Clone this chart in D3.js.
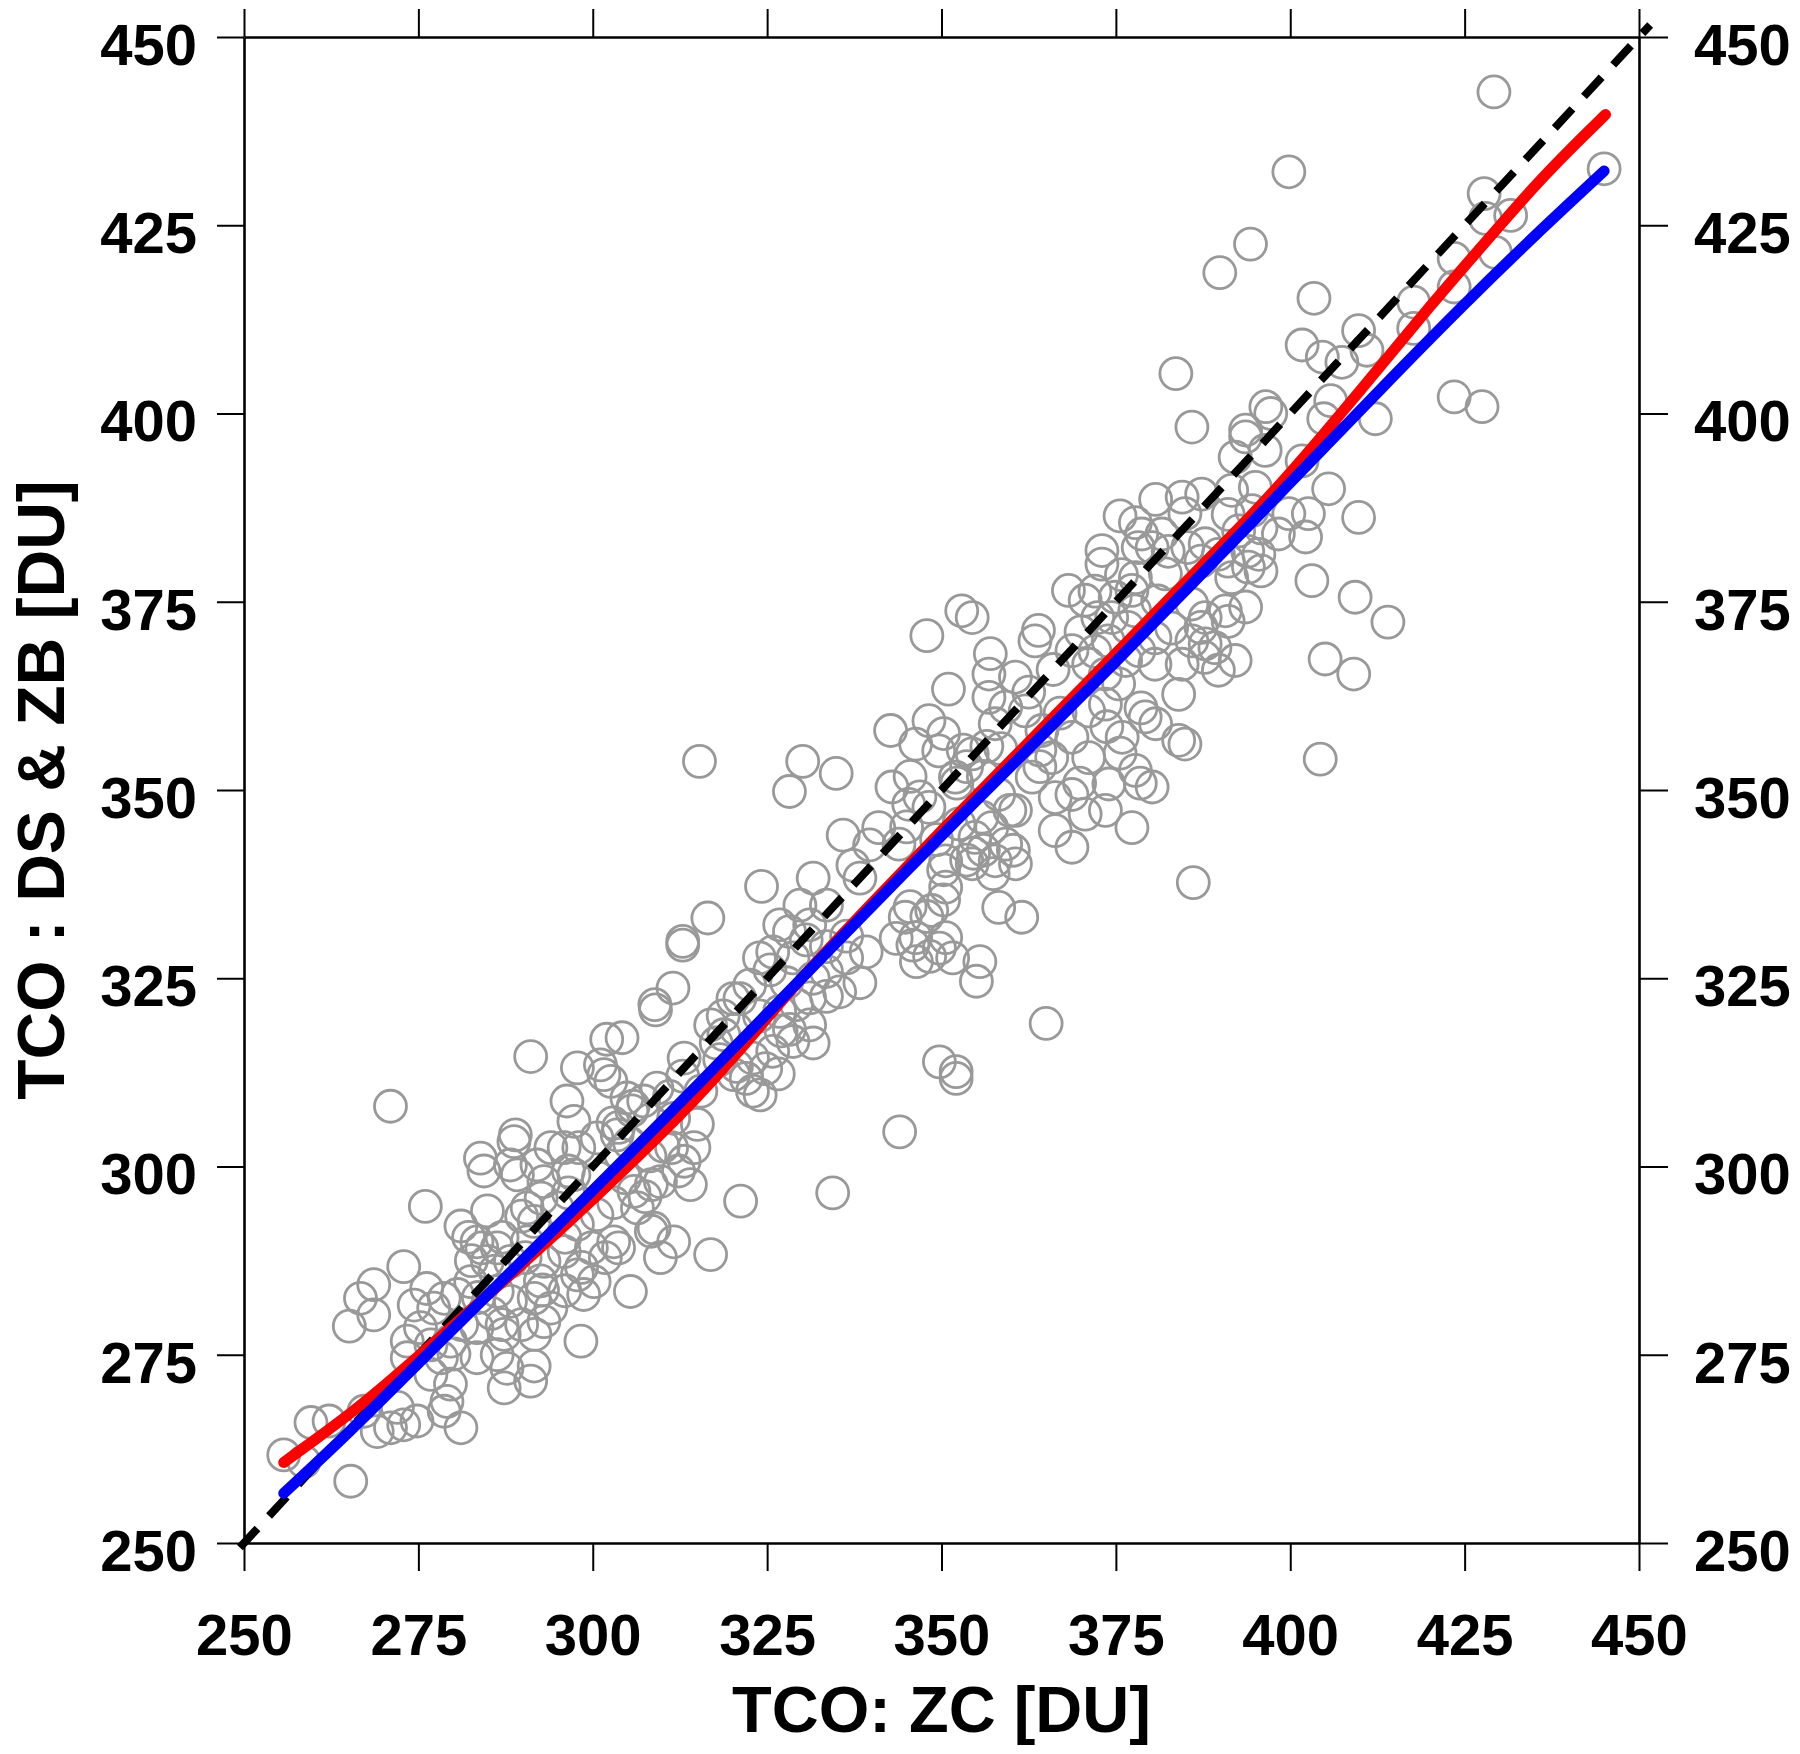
<!DOCTYPE html>
<html>
<head>
<meta charset="utf-8">
<script src="https://cdn.jsdelivr.net/npm/d3@7/dist/d3.min.js"></script>
<style>
  body { margin: 0; background: #fff; }
  svg { display: block; }
  .tick text { font-family: "Liberation Sans", Arial, sans-serif; font-weight: bold; }
</style>
</head>
<body>
<div id="chart"></div>
<script>
// tick values shared by all four sides
var tickValues = [250, 275, 300, 325, 350, 375, 400, 425, 450];

var lowerBandPoints = [
  [271.0,308.0],[291.1,314.6],[304.2,317.1],[309.0,320.8],[297.8,313.1],[301.1,313.5],[301.6,312.2],[302.6,311.3],
  [296.3,308.7],[297.3,306.0],[304.9,309.1],[307.3,308.7],[309.2,310.4],[313.1,314.4],[316.9,318.8],[318.8,317.5],
  [320.2,312.2],[315.5,310.0],[315.0,305.6],[311.6,306.4],[303.5,304.2],[300.6,303.8],[304.0,301.6],[314.5,302.5],
  [313.1,300.7],[314.0,297.6],[309.7,298.0],[305.9,296.7],[306.4,294.5],[321.2,295.4],[308.8,291.8],[311.6,290.0],
  [309.7,287.9],[316.9,288.3],[305.4,283.4],[303.0,290.0],[300.6,293.6],[297.8,292.3],[297.3,298.9],[293.0,298.0],
  [294.0,302.5],[295.9,302.5],[292.0,300.2],[289.2,298.9],[288.7,303.3],[288.9,304.2],[283.9,301.1],[284.4,299.4],
  [288.2,300.2],[276.0,294.7],[281.1,292.1],[284.9,294.1],[290.6,294.5],[291.6,292.7],[294.9,294.5],[283.4,290.0],
  [286.3,289.2],[284.9,287.4],[288.2,287.4],[290.6,290.0],[293.0,287.4],[295.9,288.7],[297.8,285.6],[300.2,284.7],
  [298.7,283.0],[292.5,284.8],[291.6,282.5],[294.0,281.2],[288.2,282.1],[286.3,283.4],[282.5,284.7],[280.6,283.0],
  [278.7,282.5],[277.2,281.2],[272.9,286.7],[268.6,284.3],[266.7,282.5],[268.6,280.3],[265.1,278.8],[274.4,281.6],
  [275.3,278.6],[273.4,276.8],[273.4,274.6],[276.8,276.3],[279.6,276.8],[283.4,278.6],[287.3,277.7],[286.3,275.0],
  [283.4,274.6],[280.1,275.1],[287.7,273.2],[291.6,273.5],[291.1,271.5],[287.3,270.6],[279.6,271.1],[279.1,268.8],
  [281.1,265.3],[276.8,272.4],[293.0,279.4],[298.3,276.8],[272.0,268.0],[271.0,265.3],[269.1,264.8],[272.9,265.7],
  [274.8,266.2],[267.2,267.5],[259.6,266.0],[262.2,266.2],[255.7,261.7],[258.6,260.8],[265.3,258.2],[278.7,267.5],
  [307.5,296.0],[292.8,283.6],[296.5,296.5],[285.5,280.5],[289.8,279.0],
  [298.0,302.5],[303.7,305.2],[305.6,307.4],[311.3,302.5],[296.5,299.4],[300.8,298.5],[304.6,298.5],[303.0,295.2],
  [308.4,297.6],[312.3,299.4],[289.8,293.4],[292.6,295.8],[284.1,289.2],[287.0,290.6],[282.2,290.6],[290.3,287.9],
  [296.0,290.6],[299.8,289.2],[301.8,287.9],[308.4,291.4],[303.7,289.2],[298.4,286.6],[296.0,283.5],[286.0,286.1],
  [282.6,287.5],[283.6,282.6],[287.0,279.0],[281.2,279.0],[291.7,277.7],[278.3,274.6],[276.2,283.8]
];

var middleBandPoints = [
  [315.3,353.8],[330.1,353.8],[334.9,352.2],[328.2,349.8],[335.9,344.0],[365.0,319.0],[349.7,313.9],[352.1,312.6],
  [352.1,311.7],[344.0,304.6],[334.4,296.5],[324.2,337.2],[316.5,333.0],[312.9,329.4],[312.9,329.9],[311.5,323.7],
  [308.9,321.5],[331.6,338.3],[329.7,334.7],[328.2,331.2],[323.9,327.7],[325.8,328.5],[328.7,327.7],[331.1,332.1],
  [333.5,334.7],[337.3,340.0],[338.3,338.3],[339.7,342.7],[339.2,328.5],[336.4,327.7],[333.5,325.9],[331.6,325.0],
  [335.4,323.2],[331.1,322.4],[329.2,321.5],[326.8,320.6],[331.1,318.8],[328.7,316.6],[325.8,315.3],[322.9,314.4],
  [322.0,311.7],[322.9,310.0],[320.1,322.3],[322.5,324.1],[326.8,332.1],[321.1,322.3],[343.5,330.3],[345.9,329.4],
  [346.4,327.2],[349.7,329.0],[351.6,327.7],[355.5,327.2],[355.0,324.6],[324.8,313.0],[326.6,312.3],[324.0,309.5],
  [327.0,318.0],
  [330.6,330.1],[333.5,329.2],[336.4,330.6],[338.3,324.4],[333.5,322.6],[327.8,324.4],[325.4,326.1],[318.7,320.0],
  [317.7,316.4],[320.6,318.2],[323.9,320.0],[328.2,318.2],[331.6,316.4],[320.6,313.3],[312.9,312.0],[311.0,309.3],
  [305.8,308.0],[308.2,306.2],[302.9,305.8],[305.3,303.1],[310.1,302.7],[308.2,301.4],[302.0,316.9],[318.2,314.2]
];

var upperBandPoints = [
  [347.9,370.5],[352.9,373.8],[354.4,372.9],[351.0,363.4],[342.7,357.9],[348.2,359.2],[346.3,356.1],[350.3,357.5],
  [349.6,355.2],[342.9,350.4],[345.3,348.1],[348.2,347.7],[341.0,345.0],[343.9,342.8],[352.0,351.7],[354.4,354.8],
  [357.0,368.1],[356.8,365.4],[356.8,362.3],[360.6,365.0],[359.2,361.0],[357.7,358.8],[362.0,360.5],[355.8,346.4],
  [357.2,345.0],[354.8,343.7],[359.2,342.8],[354.4,340.2],[357.7,340.6],[360.6,340.2],[360.6,347.3],[358.2,349.4],
  [350.6,340.6],[350.6,337.1],[348.6,334.0],[344.8,333.1],[346.3,330.4],[358.2,334.4],[361.5,333.1],[350.6,330.4],
  [363.0,351.7],[366.3,349.0],[368.7,349.4],[370.6,346.8],[366.3,344.6],[368.7,342.4],[377.3,345.0],[380.2,350.4],
  [374.0,350.8],[377.8,352.6],[384.0,356.6],[384.9,356.1],[380.7,358.8],[379.2,359.7],[384.0,362.7],[375.9,357.0],
  [371.1,354.3],[368.7,357.0],[365.8,354.3],[364.4,357.9],[363.4,369.8],[363.9,371.2],[368.2,376.5],[370.6,375.2],
  [368.7,368.5],[371.1,366.7],[373.5,365.4],[375.4,364.1],[373.5,361.4],[371.1,360.5],[376.4,367.2],[378.3,368.5],
  [374.4,372.9],[374.9,375.6],[373.0,381.8],[373.0,380.0],[375.6,386.4],[377.8,385.5],[380.7,388.6],[378.7,384.0],
  [381.6,384.0],[380.2,382.2],[377.8,378.2],[377.3,376.5],[382.1,378.7],[384.5,388.9],[387.3,389.3],[384.9,386.7],
  [387.8,382.7],[389.7,381.3],[391.6,389.8],[392.1,394.2],[396.4,395.1],[395.0,390.2],[394.5,387.1],[392.6,384.4],
  [395.5,381.3],[394.0,379.6],[391.6,378.2],[385.9,374.7],[387.8,372.9],[390.7,373.8],[393.6,374.3],[385.9,369.8],
  [387.8,369.4],[392.1,367.2],[389.7,365.9],[384.5,366.7],[398.3,384.0],[402.2,383.6],[399.8,386.7],[402.6,386.7],
  [401.7,393.7],[405.5,390.0],[409.8,386.2],[403.1,377.8],[409.3,375.6],[405.0,367.4],[409.1,365.4],[404.3,354.1],
  [386.1,337.7],[373.5,347.3],[352.5,345.5],[356.0,342.0],[362.5,363.0],[366.0,366.0],[370.0,371.0],[358.5,355.5],
  [383.0,371.5],[414.0,372.3],
  [353.1,355.3],[356.5,355.8],[364.1,355.3],[367.0,360.2],[373.7,358.4],[375.6,354.9],[378.5,350.9],[369.8,350.9],
  [364.1,353.1],[345.5,351.8],[346.9,349.1],[345.0,345.1],[349.3,343.4],[352.2,350.9],[353.6,353.1],[356.0,351.8],
  [359.8,347.3],[360.3,342.0],[354.6,341.6],[357.4,338.9],[353.6,340.7],[350.3,339.4],[350.3,335.4],[345.5,334.5],
  [347.9,333.2],[348.3,327.9],
  [391.1,386.6],[395.8,384.8],[393.9,381.7],[385.3,382.2],[378.2,382.2],[382.5,381.7],[375.8,378.6],[387.2,380.4],
  [391.1,380.4],[395.8,379.1],[372.0,376.4],[372.4,372.9],[377.7,373.8],[381.0,375.1],[391.1,372.4],[387.2,371.6],
  [389.2,368.9],[387.7,367.6],[380.6,370.2],[376.7,371.6],[373.9,369.8],[372.0,368.4],[380.6,366.7],[378.6,360.9]
];

var topBandPoints = [
  [429.2,442.7],[399.8,432.1],[394.3,422.5],[389.9,418.7],[403.4,415.3],[383.6,405.3],[385.9,398.2],[401.7,409.1],
  [404.6,407.5],[407.4,406.8],[409.8,411.0],[411.0,408.4],[427.8,429.2],[428.0,425.9],[431.6,426.3],[429.4,421.4],
  [423.5,420.6],[423.5,416.8],[417.7,414.8],[417.7,411.3],[445.0,432.5],[423.5,402.2],[427.5,400.9],[412.2,399.3],
  [404.8,399.3],[405.8,401.7],[396.5,400.9],[397.2,400.0],[393.6,397.8],[393.6,396.9]
];

// red fitted curve
var redFitX = [255.7,260,265,270,275,280,285,290,295,300,305,310,315,320,325,330,340,350,360,370,380,390,395,400,405,410,415,420,425,430,435,440,445.2];
var redFitY = [260.7,263.6,267.0,270.8,274.8,278.9,283.0,287.1,291.3,295.6,300.0,304.5,309.2,314.3,319.7,325.2,335.0,344.6,354.0,363.4,372.9,382.3,387.0,392.1,397.5,403.0,408.6,414.2,419.6,424.9,430.2,435.0,439.7];

// blue fitted curve
var blueFitX = [255.7,265,275,285,295,305,315,325,335,345,355,365,375,385,395,405,415,425,435,445];
var blueFitY = [256.6,264.6,273.9,283.0,292.2,301.4,310.8,320.3,329.8,339.3,348.6,357.8,367.0,376.5,386.0,395.6,405.2,414.6,423.6,432.2];

// 1:1 reference line ends
var oneToOne = [249.4, 451.6];

var width = 1800, height = 1754;
var margin = {top: 37, right: 161, bottom: 211, left: 244};
var fontFamily = '"Liberation Sans", Arial, sans-serif';

var svg = d3.select("#chart").append("svg")
  .attr("width", width)
  .attr("height", height);

var x = d3.scaleLinear().domain([250, 450]).range([margin.left, width - margin.right]);
var y = d3.scaleLinear().domain([250, 450]).range([height - margin.bottom, margin.top]);

var allPoints = lowerBandPoints.concat(middleBandPoints, upperBandPoints, topBandPoints);

// scatter
svg.append("g")
  .selectAll("circle")
  .data(allPoints)
  .enter()
  .append("circle")
  .attr("cx", function(d) { return x(d[0]); })
  .attr("cy", function(d) { return y(d[1]); })
  .attr("r", 16)
  .attr("fill", "none")
  .attr("stroke", "#999999")
  .attr("stroke-width", 2.8);

// dashed 1:1 line
var line = d3.line()
  .x(function(d) { return x(d[0]); })
  .y(function(d) { return y(d[1]); });

svg.append("path")
  .datum(oneToOne.map(function(v) { return [v, v]; }))
  .attr("d", line)
  .attr("fill", "none")
  .attr("stroke", "#000")
  .attr("stroke-width", 8)
  .attr("stroke-dasharray", "26,17");

var smooth = d3.line()
  .x(function(d) { return x(d[0]); })
  .y(function(d) { return y(d[1]); })
  .curve(d3.curveBasis);

svg.append("path")
  .datum(d3.zip(redFitX, redFitY))
  .attr("d", smooth)
  .attr("fill", "none")
  .attr("stroke", "#ff0000")
  .attr("stroke-width", 11)
  .attr("stroke-linecap", "round");

svg.append("path")
  .datum(d3.zip(blueFitX, blueFitY))
  .attr("d", smooth)
  .attr("fill", "none")
  .attr("stroke", "#0000ff")
  .attr("stroke-width", 11)
  .attr("stroke-linecap", "round");

// axes on all four sides
var fmt = d3.format("d");

var gBottom = svg.append("g")
  .attr("transform", "translate(0," + (height - margin.bottom) + ")")
  .call(d3.axisBottom(x).tickValues(tickValues).tickFormat(fmt).tickSize(28).tickSizeOuter(0).tickPadding(43));

var gTop = svg.append("g")
  .attr("transform", "translate(0," + margin.top + ")")
  .call(d3.axisTop(x).tickValues(tickValues).tickFormat("").tickSize(28).tickSizeOuter(0));

var gLeft = svg.append("g")
  .attr("transform", "translate(" + margin.left + ",0)")
  .call(d3.axisLeft(y).tickValues(tickValues).tickFormat(fmt).tickSize(27).tickSizeOuter(0).tickPadding(20));

var gRight = svg.append("g")
  .attr("transform", "translate(" + (width - margin.right) + ",0)")
  .call(d3.axisRight(y).tickValues(tickValues).tickFormat(fmt).tickSize(29).tickSizeOuter(0).tickPadding(26));

[gBottom, gTop, gLeft, gRight].forEach(function(g) {
  g.select(".domain").attr("stroke", "#000").attr("stroke-width", 2.6);
  g.selectAll(".tick line").attr("stroke", "#000").attr("stroke-width", 2);
  g.selectAll(".tick text")
    .attr("fill", "#000")
    .style("font-size", "58px")
    .style("font-family", fontFamily)
    .style("font-weight", "bold");
});

gLeft.selectAll(".tick text").attr("dy", "0.47em");
gRight.selectAll(".tick text").attr("dy", "0.47em");

// axis titles
svg.append("text")
  .attr("x", (margin.left + width - margin.right) / 2)
  .attr("y", 1732)
  .attr("text-anchor", "middle")
  .style("font-family", fontFamily)
  .style("font-weight", "bold")
  .style("font-size", "65px")
  .text("TCO: ZC [DU]");

svg.append("text")
  .attr("transform", "translate(64," + (y(250) + y(450)) / 2 + ") rotate(-90)")
  .attr("text-anchor", "middle")
  .style("font-family", fontFamily)
  .style("font-weight", "bold")
  .style("font-size", "66px")
  .text("TCO : DS & ZB [DU]");
</script>
</body>
</html>
